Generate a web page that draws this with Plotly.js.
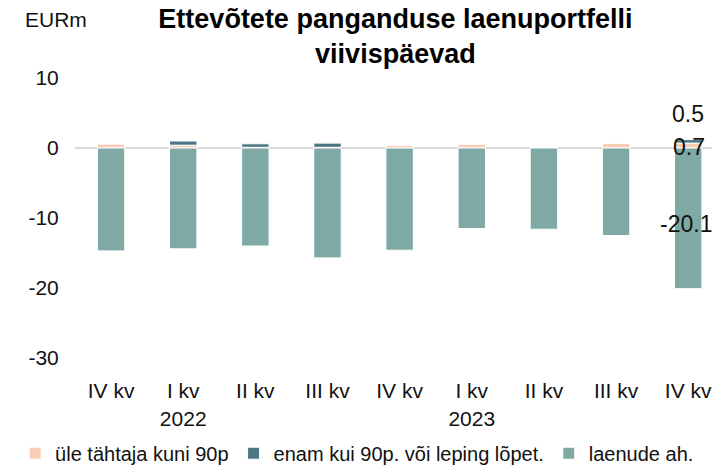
<!DOCTYPE html>
<html>
<head>
<meta charset="utf-8">
<script src="https://cdn.plot.ly/plotly-3.0.1.min.js"></script>
<style>html,body{margin:0;padding:0;background:#fff;overflow:hidden}</style>
</head>
<body>
<div id="chart" style="width:712px;height:470px"></div>
<script>
const categories = ["IV kv", "I kv<br>2022", "II kv", "III kv", "IV kv", "I kv<br>2023", "II kv", "III kv", "IV kv"];
const seriesNames = ["üle tähtaja kuni 90p", "enam kui 90p. või leping lõpet.", "laenude ah."];
const overdueUpTo90 = [0.6, 0.4, 0.1, 0.1, 0.4, 0.55, 0.1, 0.7, 0.7];
const overdueOver90 = [0.0, 0.6, 0.5, 0.6, 0.0, 0.0, 0.0, 0.0, 0.5];
const loanDecrease = [-14.7, -14.4, -14.0, -15.7, -14.6, -11.5, -11.6, -12.5, -20.1];
const yTicks = [10, 0, -10, -20, -30];

const colors = ["#F8CDB3", "#4B7682", "#7FA9A4"];
const font = {family: "Liberation Sans, Arial, sans-serif", size: 21, color: "#111"};
const labelFont = {family: font.family, size: 23, color: "#111"};
const xIdx = categories.map((c, i) => i);

const traces = [overdueUpTo90, overdueOver90, loanDecrease].map((vals, k) => ({
  type: "bar",
  x: xIdx,
  y: vals,
  name: seriesNames[k],
  marker: {color: colors[k], line: {color: "#fff", width: 1}},
  hoverinfo: "y+name"
}));

const last = categories.length - 1;
const annotations = [
  {text: "EURm", xref: "paper", yref: "paper", x: 0, xshift: -52, xanchor: "left", y: 1, yshift: 59, yanchor: "middle", showarrow: false, font: font},
  {text: overdueOver90[last].toFixed(1), xref: "x", yref: "y", x: last, xshift: 0, y: 4.8, showarrow: false, font: labelFont},
  {text: overdueUpTo90[last].toFixed(1), xref: "x", yref: "y", x: last, xshift: 1, y: 0.1, showarrow: false, font: labelFont},
  {text: loanDecrease[last].toFixed(1), xref: "x", yref: "y", x: last, xshift: -2, y: -10.8, showarrow: false, font: labelFont}
];

const layout = {
  width: 712, height: 470,
  margin: {l: 74.5, r: 0, t: 78, b: 112, autoexpand: false},
  paper_bgcolor: "#fff", plot_bgcolor: "#fff",
  font: font,
  title: {text: "<b>Ettevõtete panganduse laenuportfelli<br>viivispäevad</b>", x: 0.503, xref: "paper", xanchor: "center", y: 0.94, yref: "container", yanchor: "top", font: {family: font.family, size: 27, color: "#000"}},
  barmode: "relative",
  bargap: 0.62,
  showlegend: true,
  legend: {orientation: "h", xref: "paper", x: -0.094, xanchor: "left", y: -0.34, yanchor: "middle", font: {family: font.family, size: 20, color: "#111"}, traceorder: "normal", itemwidth: 30},
  xaxis: {
    tickmode: "array", tickvals: xIdx, ticktext: categories,
    range: [-0.5, 8.33], showgrid: false, zeroline: false, showline: false,
    ticks: "outside", ticklen: 14, tickcolor: "rgba(0,0,0,0)", tickfont: font,
    ticklabeloverflow: "allow", automargin: false
  },
  yaxis: {
    range: [-30, 10], tickmode: "array", tickvals: yTicks, ticktext: yTicks.map(String),
    showgrid: false, zeroline: true, zerolinecolor: "#D9D9D9", zerolinewidth: 2,
    showline: false, ticks: "outside", ticklen: 11, tickcolor: "rgba(0,0,0,0)", tickfont: font,
    layer: "above traces", automargin: false
  },
  annotations: annotations
};

Plotly.newPlot("chart", traces, layout, {displayModeBar: false, staticPlot: true});
</script>
</body>
</html>
